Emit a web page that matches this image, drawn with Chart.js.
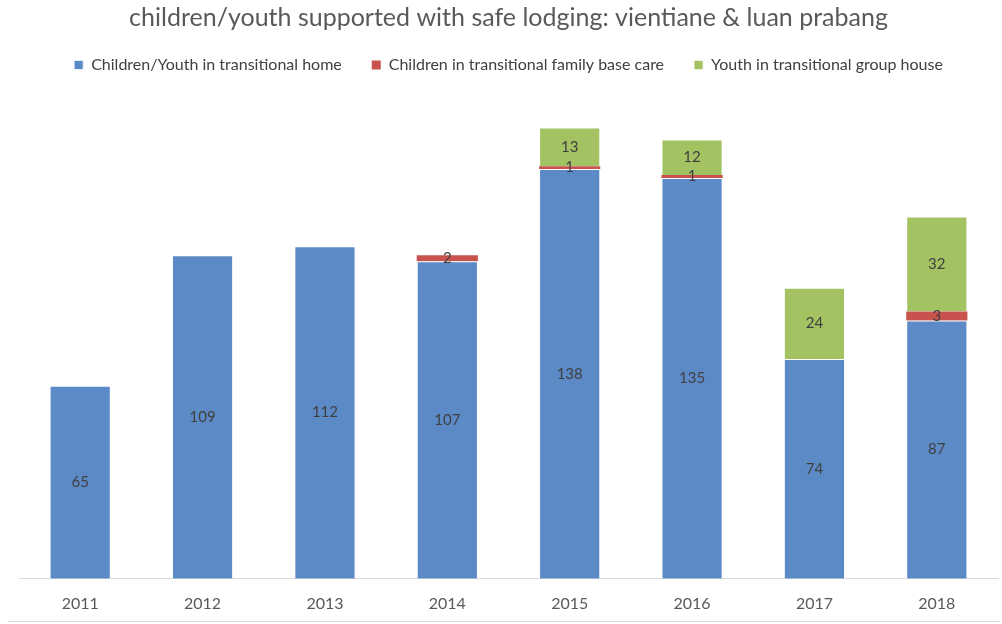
<!DOCTYPE html>
<html>
<head>
<meta charset="utf-8">
<script src="https://cdn.jsdelivr.net/npm/chart.js@4/dist/chart.umd.min.js"></script>
<style>
  html, body { margin: 0; padding: 0; background: #fff; }
  #wrap { width: 1002px; height: 624px; position: relative; }
</style>
</head>
<body>
<div id="wrap"><canvas id="canvas" width="1002" height="624"></canvas></div>
<script>
var years = ['2011', '2012', '2013', '2014', '2015', '2016', '2017', '2018'];
var homeValues = [65, 109, 112, 107, 138, 135, 74, 87];
var familyValues = [0, 0, 0, 2, 1, 1, 0, 3];
var groupValues = [0, 0, 0, 0, 13, 12, 24, 32];

var FONT = "Lato, 'Open Sans', sans-serif";

// writes each segment's value in the middle of its bar piece
var segmentLabels = {
    id: 'segmentLabels',
    afterDatasetsDraw: function (chart) {
        var ctx = chart.ctx;
        ctx.save();
        ctx.font = '15px ' + FONT;
        ctx.fillStyle = '#404040';
        ctx.textAlign = 'center';
        ctx.textBaseline = 'middle';
        chart.data.datasets.forEach(function (ds, i) {
            var meta = chart.getDatasetMeta(i);
            meta.data.forEach(function (bar, j) {
                var v = ds.data[j];
                if (!v) return;
                var mid = (bar.y + bar.base) / 2;
                ctx.fillText(String(v), bar.x, mid);
            });
        });
        ctx.restore();
    }
};

// thin frame line along the bottom of the chart
var bottomLine = {
    id: 'bottomLine',
    afterDraw: function (chart) {
        var ctx = chart.ctx;
        ctx.save();
        ctx.strokeStyle = '#d9d9d9';
        ctx.lineWidth = 1;
        ctx.beginPath();
        ctx.moveTo(8, 621.5);
        ctx.lineTo(1000, 621.5);
        ctx.stroke();
        ctx.restore();
    }
};

var chart = new Chart(document.getElementById('canvas'), {
    type: 'bar',
    data: {
        labels: years,
        datasets: [{
            label: 'Children/Youth in transitional home',
            data: homeValues,
            backgroundColor: '#5b8ac6',
            borderColor: 'rgba(255,255,255,0.7)',
            borderWidth: 1
        }, {
            label: 'Children in transitional family base care',
            data: familyValues,
            backgroundColor: '#c8524e',
            borderColor: 'rgba(255,255,255,0.7)',
            borderWidth: 0
        }, {
            label: 'Youth in transitional group house',
            data: groupValues,
            backgroundColor: '#a3c262',
            borderColor: 'rgba(255,255,255,0.7)',
            borderWidth: 1
        }]
    },
    options: {
        responsive: false,
        animation: false,
        layout: { padding: { left: 19, right: 4, top: 0, bottom: -4 } },
        datasets: {
            bar: { categoryPercentage: 1, barPercentage: 0.5 }
        },
        plugins: {
            title: {
                display: true,
                text: 'children/youth supported with safe lodging: vientiane & luan prabang',
                color: '#595959',
                font: { family: FONT, size: 25, weight: 'normal' },
                padding: { top: 3, bottom: -6 }
            },
            legend: {
                position: 'top',
                labels: {
                    color: '#404040',
                    font: { family: FONT, size: 16 },
                    boxWidth: 9,
                    boxHeight: 9,
                    padding: 30
                }
            },
            tooltip: { enabled: false }
        },
        scales: {
            x: {
                stacked: true,
                grid: { display: false, drawTicks: false },
                border: { color: '#d9d9d9' },
                ticks: {
                    color: '#595959',
                    font: { family: FONT, size: 16 },
                    padding: 15
                }
            },
            y: {
                stacked: true,
                display: false,
                min: 0,
                max: 167
            }
        }
    },
    plugins: [segmentLabels, bottomLine]
});
</script>
</body>
</html>
